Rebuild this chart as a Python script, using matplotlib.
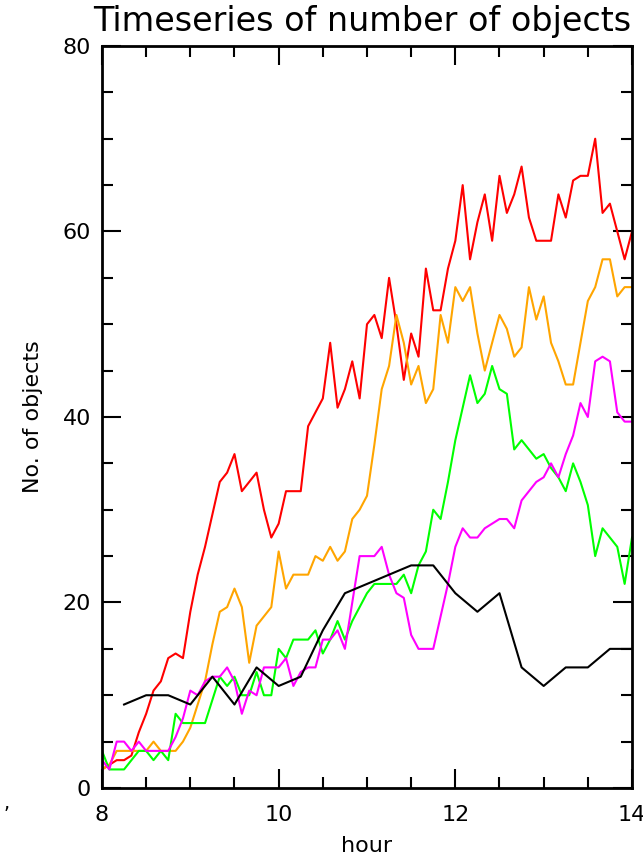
import numpy as np
import matplotlib
matplotlib.use('Agg')
import matplotlib.pyplot as plt
from matplotlib.ticker import MultipleLocator

# 5-minute samples from 8:00 to 14:00
hours = 8 + np.arange(73) / 12.0
red = [2, 2.5, 3, 3, 3.5, 6, 8, 10.5, 11.5, 14, 14.5, 14,
       19, 23, 26, 29.5, 33, 34, 36, 32, 33, 34, 30, 27,
       28.5, 32, 32, 32, 39, 40.5, 42, 48, 41, 43, 46, 42,
       50, 51, 48.5, 55, 50, 44, 49, 46.5, 56, 51.5, 51.5, 56,
       59, 65, 57, 61, 64, 59, 66, 62, 64, 67, 61.5, 59,
       59, 59, 64, 61.5, 65.5, 66, 66, 70, 62, 63, 60, 57,
       60]
orange = [2, 2.5, 4, 4, 4, 4, 4, 5, 4, 4, 4, 5,
          6.5, 9, 11.5, 15.5, 19, 19.5, 21.5, 19.5, 13.5, 17.5, 18.5, 19.5,
          25.5, 21.5, 23, 23, 23, 25, 24.5, 26, 24.5, 25.5, 29, 30,
          31.5, 37, 43, 45.5, 51, 48, 43.5, 45.5, 41.5, 43, 51, 48,
          54, 52.5, 54, 49, 45, 48, 51, 49.5, 46.5, 47.5, 54, 50.5,
          53, 48, 46, 43.5, 43.5, 48, 52.5, 54, 57, 57, 53, 54,
          54]
green = [4, 2, 2, 2, 3, 4, 4, 3, 4, 3, 8, 7,
         7, 7, 7, 9.5, 12, 11, 12, 10, 10, 12.5, 10, 10,
         15, 14, 16, 16, 16, 17, 14.5, 16, 18, 16, 18, 19.5,
         21, 22, 22, 22, 22, 23, 21, 24, 25.5, 30, 29, 33,
         37.5, 41, 44.5, 41.5, 42.5, 45.5, 43, 42.5, 36.5, 37.5, 36.5, 35.5,
         36, 34.5, 33.5, 32, 35, 33, 30.5, 25, 28, 27, 26, 22,
         27]
magenta = [3, 2, 5, 5, 4, 5, 4, 4, 4, 4, 5.5, 7.5,
           10.5, 10, 11.5, 12, 12, 13, 11.5, 8, 10.5, 10, 13, 13,
           13, 14, 11, 12.5, 13, 13, 16, 16, 17, 15, 20, 25,
           25, 25, 26, 23, 21, 20.5, 16.5, 15, 15, 15, 18.5, 22,
           26, 28, 27, 27, 28, 28.5, 29, 29, 28, 31, 32, 33,
           33.5, 35, 33.5, 36, 38, 41.5, 40, 46, 46.5, 46, 40.5, 39.5,
           39.5]

# 15-minute samples
hours_b = 8.25 + 0.25 * np.arange(24)
black = [9, 10, 10, 9, 12, 9, 13, 11, 12, 17, 21, 22,
         23, 24, 24, 21, 19, 21, 13, 11, 13, 13, 15, 15]

plt.rcParams['font.family'] = 'DejaVu Sans'
fig = plt.figure(figsize=(6.43, 8.61), dpi=100)
ax = fig.add_axes([0.1586, 0.0848, 0.8243, 0.8618])

ax.plot(hours, red, color='#ff0000', lw=1.5)
ax.plot(hours, orange, color='#ffa500', lw=1.5)
ax.plot(hours, green, color='#00ff00', lw=1.5)
ax.plot(hours, magenta, color='#ff00ff', lw=1.5)
ax.plot(hours_b, black, color='black', lw=1.5)

ax.set_xlim(8, 14)
ax.set_ylim(0, 80)
ax.xaxis.set_major_locator(MultipleLocator(2))
ax.xaxis.set_minor_locator(MultipleLocator(0.5))
ax.yaxis.set_major_locator(MultipleLocator(20))
ax.yaxis.set_minor_locator(MultipleLocator(5))
ax.tick_params(which='both', direction='in', top=True, right=True,
               width=1.5, labelsize=16, colors='black')
ax.tick_params(which='major', length=14, pad=8)
ax.tick_params(axis='x', which='major', pad=12)
ax.tick_params(which='minor', length=8)
for s in ax.spines.values():
    s.set_linewidth(2)

ax.set_xlabel('hour', fontsize=16, labelpad=8)
ax.set_ylabel('No. of objects', fontsize=16, labelpad=14)
fig.text(0.145, 0.975, 'Timeseries of number of objects', fontsize=24,
         ha='left', va='center')
fig.text(0.005, 0.06, ',', fontsize=14)

fig.savefig('out.png', dpi=100)
